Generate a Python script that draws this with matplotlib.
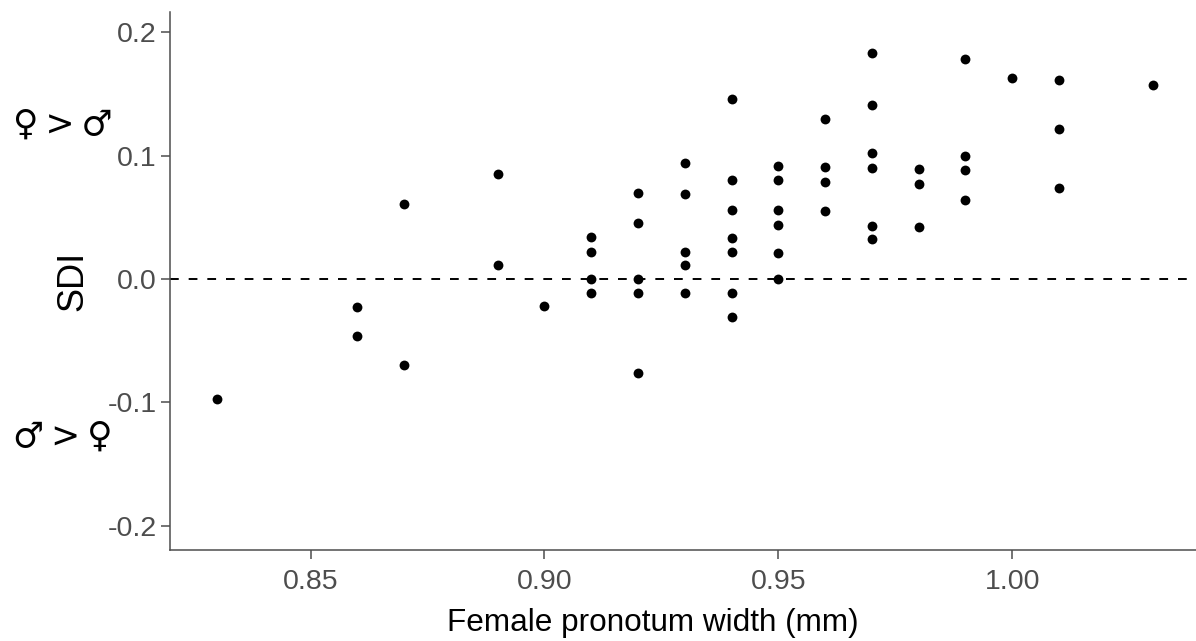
import matplotlib
matplotlib.use("Agg")
import matplotlib.pyplot as plt

# female pronotum width (mm) and sexual dimorphism index
width = [0.83, 0.86, 0.86, 0.87, 0.87, 0.89, 0.89, 0.90,
         0.91, 0.91, 0.91, 0.91,
         0.92, 0.92, 0.92, 0.92, 0.92,
         0.93, 0.93, 0.93, 0.93, 0.93,
         0.94, 0.94, 0.94, 0.94, 0.94, 0.94, 0.94,
         0.95, 0.95, 0.95, 0.95, 0.95, 0.95,
         0.96, 0.96, 0.96, 0.96,
         0.97, 0.97, 0.97, 0.97, 0.97, 0.97,
         0.98, 0.98, 0.98,
         0.99, 0.99, 0.99, 0.99,
         1.00, 1.01, 1.01, 1.01, 1.03]
sdi = [-0.097, -0.023, -0.046, 0.061, -0.070, 0.085, 0.011, -0.022,
       0.034, 0.022, 0.000, -0.011,
       0.070, 0.045, 0.000, -0.011, -0.076,
       0.094, 0.069, 0.022, 0.011, -0.011,
       0.146, 0.080, 0.056, 0.033, 0.022, -0.011, -0.031,
       0.092, 0.080, 0.056, 0.044, 0.021, 0.000,
       0.130, 0.091, 0.079, 0.055,
       0.183, 0.141, 0.102, 0.090, 0.043, 0.032,
       0.089, 0.077, 0.042,
       0.178, 0.100, 0.088, 0.064,
       0.163, 0.161, 0.122, 0.074, 0.157]

x_ticks = [0.85, 0.90, 0.95, 1.00]
y_ticks = [-0.2, -0.1, 0.0, 0.1, 0.2]

plt.rcParams["font.family"] = ["Liberation Sans", "DejaVu Sans"]

fig = plt.figure(figsize=(11.96, 6.41), dpi=100)
ax = fig.add_axes([0.1424, 0.142, 0.8576, 0.8393])

ax.scatter(width, sdi, s=50, color="black", linewidths=0, zorder=3)
ax.axhline(0, color="black", lw=1.4, linestyle=(0, (4.5, 5.1)), zorder=2)

ax.set_xlim(0.82, 1.0393)
ax.set_ylim(-0.2198, 0.2165)
ax.set_xticks(x_ticks)
ax.set_xticklabels([f"{v:.2f}" for v in x_ticks])
ax.set_yticks(y_ticks)
ax.set_yticklabels([f"{v:.1f}" for v in y_ticks])

for side in ["top", "right"]:
    ax.spines[side].set_visible(False)
for side in ["left", "bottom"]:
    ax.spines[side].set_color("#4d4d4d")
    ax.spines[side].set_linewidth(1.1)

ax.tick_params(axis="both", colors="#4d4d4d", labelsize=20.5, length=6.5, width=1.1)
ax.tick_params(axis="x", pad=7)

ax.set_xlabel("Female pronotum width (mm)", fontsize=22.7, color="black")
ax.xaxis.set_label_coords(0.47, -0.107)
ax.set_ylabel("SDI", fontsize=26, color="black")
ax.yaxis.set_label_coords(-0.078, 0.5)

# sex-symbol annotations beside the y axis
sym_font = ["DejaVu Sans"]
ax.annotate("\u2640\u2009>\u2009\u2642", xy=(0.011, 0.125), xycoords=("figure fraction", "data"),
            fontsize=25, family=sym_font, va="center", ha="left", annotation_clip=False)
ax.annotate("\u2642\u2009>\u2009\u2640", xy=(0.011, -0.128), xycoords=("figure fraction", "data"),
            fontsize=25, family=sym_font, va="center", ha="left", annotation_clip=False)

fig.savefig("out.png", dpi=100)
